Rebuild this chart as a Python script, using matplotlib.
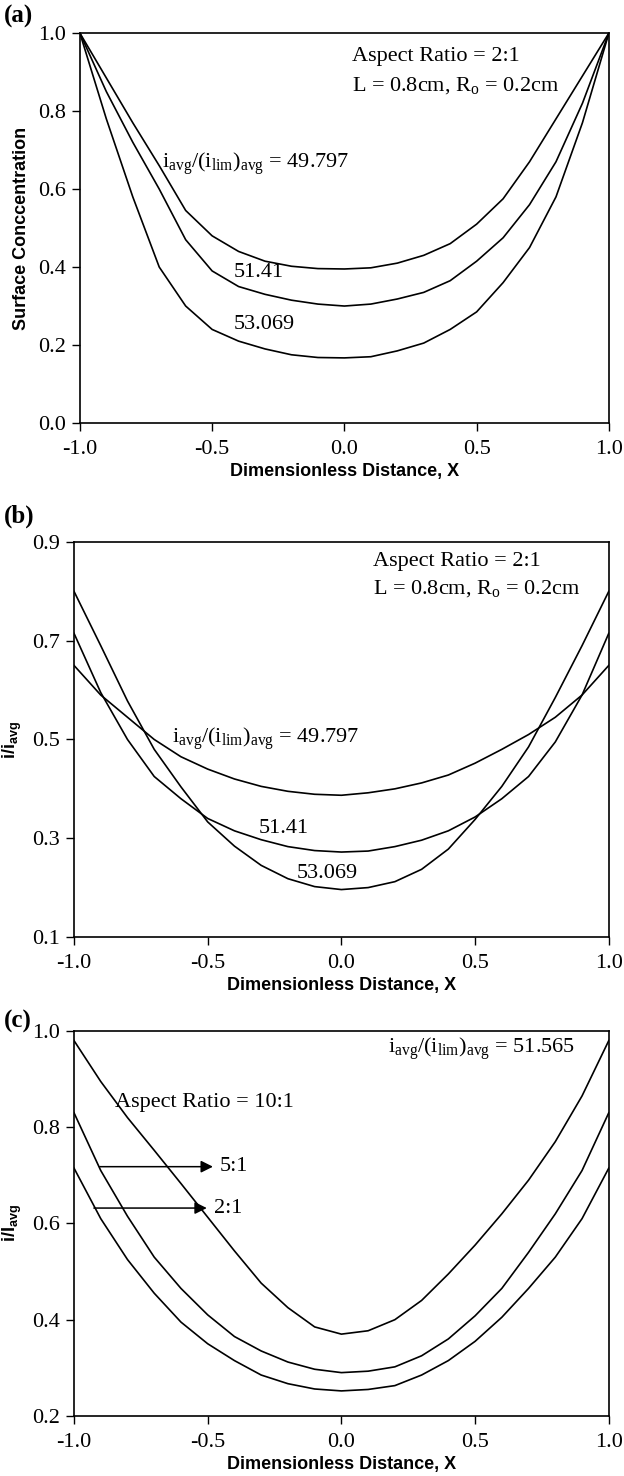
import matplotlib
matplotlib.use("Agg")
import matplotlib.pyplot as plt

plt.rcParams['font.family'] = 'Liberation Serif'
plt.rcParams['mathtext.fontset'] = 'custom'
plt.rcParams['mathtext.rm'] = 'Liberation Serif'
plt.rcParams['mathtext.it'] = 'Liberation Serif:italic'
plt.rcParams['mathtext.bf'] = 'Liberation Sans:bold'

# x positions shared by all curves
x = [-1.0, -0.9, -0.8, -0.7, -0.6, -0.5, -0.4, -0.3, -0.2, -0.1, 0.0,
     0.1, 0.2, 0.3, 0.4, 0.5, 0.6, 0.7, 0.8, 0.9, 1.0]

# (a) surface concentration, aspect ratio 2:1
conc_49797 = [1.0, 0.885, 0.77, 0.66, 0.545, 0.48, 0.44, 0.415, 0.402, 0.396, 0.395,
              0.398, 0.41, 0.43, 0.46, 0.51, 0.575, 0.67, 0.78, 0.89, 1.0]
conc_5141 = [1.0, 0.85, 0.72, 0.60, 0.47, 0.39, 0.35, 0.33, 0.315, 0.305, 0.30,
             0.305, 0.318, 0.335, 0.365, 0.415, 0.475, 0.56, 0.67, 0.82, 1.0]
conc_53069 = [1.0, 0.78, 0.58, 0.40, 0.30, 0.24, 0.21, 0.19, 0.175, 0.168, 0.167,
              0.17, 0.185, 0.205, 0.24, 0.285, 0.36, 0.45, 0.58, 0.77, 1.0]

# (b) current distribution, aspect ratio 2:1
cur_49797 = [0.65, 0.59, 0.545, 0.50, 0.465, 0.44, 0.42, 0.405, 0.395, 0.389, 0.387,
             0.392, 0.40, 0.412, 0.428, 0.452, 0.48, 0.51, 0.545, 0.59, 0.65]
cur_5141 = [0.715, 0.595, 0.50, 0.425, 0.38, 0.34, 0.315, 0.297, 0.283, 0.275, 0.272,
            0.274, 0.283, 0.296, 0.315, 0.343, 0.38, 0.425, 0.495, 0.59, 0.715]
cur_53069 = [0.80, 0.69, 0.578, 0.48, 0.404, 0.333, 0.284, 0.245, 0.218, 0.202, 0.196,
             0.20, 0.212, 0.237, 0.278, 0.338, 0.405, 0.485, 0.585, 0.69, 0.80]

# (c) current distribution, i_avg/(i_lim)_avg = 51.565
ar_10 = [0.98, 0.895, 0.82, 0.752, 0.683, 0.613, 0.543, 0.476, 0.425, 0.385, 0.37,
         0.377, 0.40, 0.44, 0.495, 0.555, 0.62, 0.69, 0.77, 0.865, 0.98]
ar_5 = [0.83, 0.71, 0.615, 0.53, 0.465, 0.41, 0.365, 0.335, 0.312, 0.297, 0.29,
        0.293, 0.302, 0.325, 0.36, 0.408, 0.465, 0.54, 0.62, 0.71, 0.83]
ar_2 = [0.715, 0.61, 0.525, 0.455, 0.395, 0.35, 0.315, 0.285, 0.267, 0.256, 0.252,
        0.255, 0.263, 0.285, 0.315, 0.355, 0.405, 0.465, 0.53, 0.61, 0.715]

xticks = [-1.0, -0.5, 0.0, 0.5, 1.0]
ratio_txt = r'$\mathrm{i_{avg}/(i_{lim})_{avg}}$'
FS = 16

fig = plt.figure(figsize=(6.24, 14.76), dpi=100)


def style(ax, ylim, yticks, ylabel):
    ax.set_xlim(-1, 1)
    ax.set_ylim(*ylim)
    ax.set_xticks(xticks)
    ax.set_xticklabels(['%.1f' % t for t in xticks])
    ax.set_yticks(yticks)
    ax.set_yticklabels(['%.1f' % t for t in yticks])
    ax.tick_params(direction='out', length=6, width=1, labelsize=FS)
    ax.tick_params(axis='x', pad=6)
    ax.tick_params(axis='y', pad=4)
    for s in ax.spines.values():
        s.set_linewidth(1.2)
    ax.set_xlabel('Dimensionless Distance, X', fontfamily='Liberation Sans',
                  fontweight='bold', fontsize=13, labelpad=3)
    ax.set_ylabel(ylabel, fontfamily='Liberation Sans', fontweight='bold',
                  fontsize=13, labelpad=6)


# panel (a)
ax1 = fig.add_axes([0.128, 0.7134, 0.8478, 0.2642])
for y in [conc_49797, conc_5141, conc_53069]:
    ax1.plot(x, y, color='black', lw=1.2)
style(ax1, (0, 1), [0.0, 0.2, 0.4, 0.6, 0.8, 1.0], 'Surface Conccentration')
ax1.text(-0.69, 0.665, ratio_txt + ' = 49.797', fontsize=FS, va='center')
ax1.text(-0.42, 0.385, '51.41', fontsize=FS, va='center')
ax1.text(-0.42, 0.252, '53.069', fontsize=FS, va='center')
ax1.text(0.03, 0.94, 'Aspect Ratio = 2:1', fontsize=FS, va='center')
ax1.text(0.03, 0.866, r'L = 0.8cm, R$\mathrm{_o}$ = 0.2cm', fontsize=FS, va='center')

# panel (b)
ax2 = fig.add_axes([0.1186, 0.3652, 0.857, 0.2676])
for y in [cur_49797, cur_5141, cur_53069]:
    ax2.plot(x, y, color='black', lw=1.2)
style(ax2, (0.1, 0.9), [0.1, 0.3, 0.5, 0.7, 0.9], r'$\mathbf{i/i_{avg}}$')
ax2.text(-0.633, 0.502, ratio_txt + ' = 49.797', fontsize=FS, va='center')
ax2.text(-0.308, 0.32, '51.41', fontsize=FS, va='center')
ax2.text(-0.168, 0.228, '53.069', fontsize=FS, va='center')
ax2.text(0.12, 0.861, 'Aspect Ratio = 2:1', fontsize=FS, va='center')
ax2.text(0.12, 0.805, r'L = 0.8cm, R$\mathrm{_o}$ = 0.2cm', fontsize=FS, va='center')

# panel (c)
ax3 = fig.add_axes([0.1186, 0.0407, 0.857, 0.2608])
for y in [ar_10, ar_5, ar_2]:
    ax3.plot(x, y, color='black', lw=1.2)
style(ax3, (0.2, 1.0), [0.2, 0.4, 0.6, 0.8, 1.0], r'$\mathbf{i/I_{avg}}$')
ax3.text(0.174, 0.963, ratio_txt + ' = 51.565', fontsize=FS, va='center')
ax3.text(-0.847, 0.852, 'Aspect Ratio = 10:1', fontsize=FS, va='center')
ax3.annotate('', xy=(-0.47, 0.718), xytext=(-0.914, 0.718),
             arrowprops=dict(arrowstyle='-|>', color='black', lw=1.1, mutation_scale=18))
ax3.text(-0.455, 0.718, '5:1', fontsize=FS, va='center')
ax3.annotate('', xy=(-0.493, 0.632), xytext=(-0.936, 0.632),
             arrowprops=dict(arrowstyle='-|>', color='black', lw=1.1, mutation_scale=18))
ax3.text(-0.478, 0.632, '2:1', fontsize=FS, va='center')

# panel letters
fig.text(0.006, 0.989, '(a)', fontsize=18, fontweight='bold', va='center')
fig.text(0.006, 0.650, '(b)', fontsize=18, fontweight='bold', va='center')
fig.text(0.006, 0.308, '(c)', fontsize=18, fontweight='bold', va='center')

fig.savefig('out.png', dpi=100)
